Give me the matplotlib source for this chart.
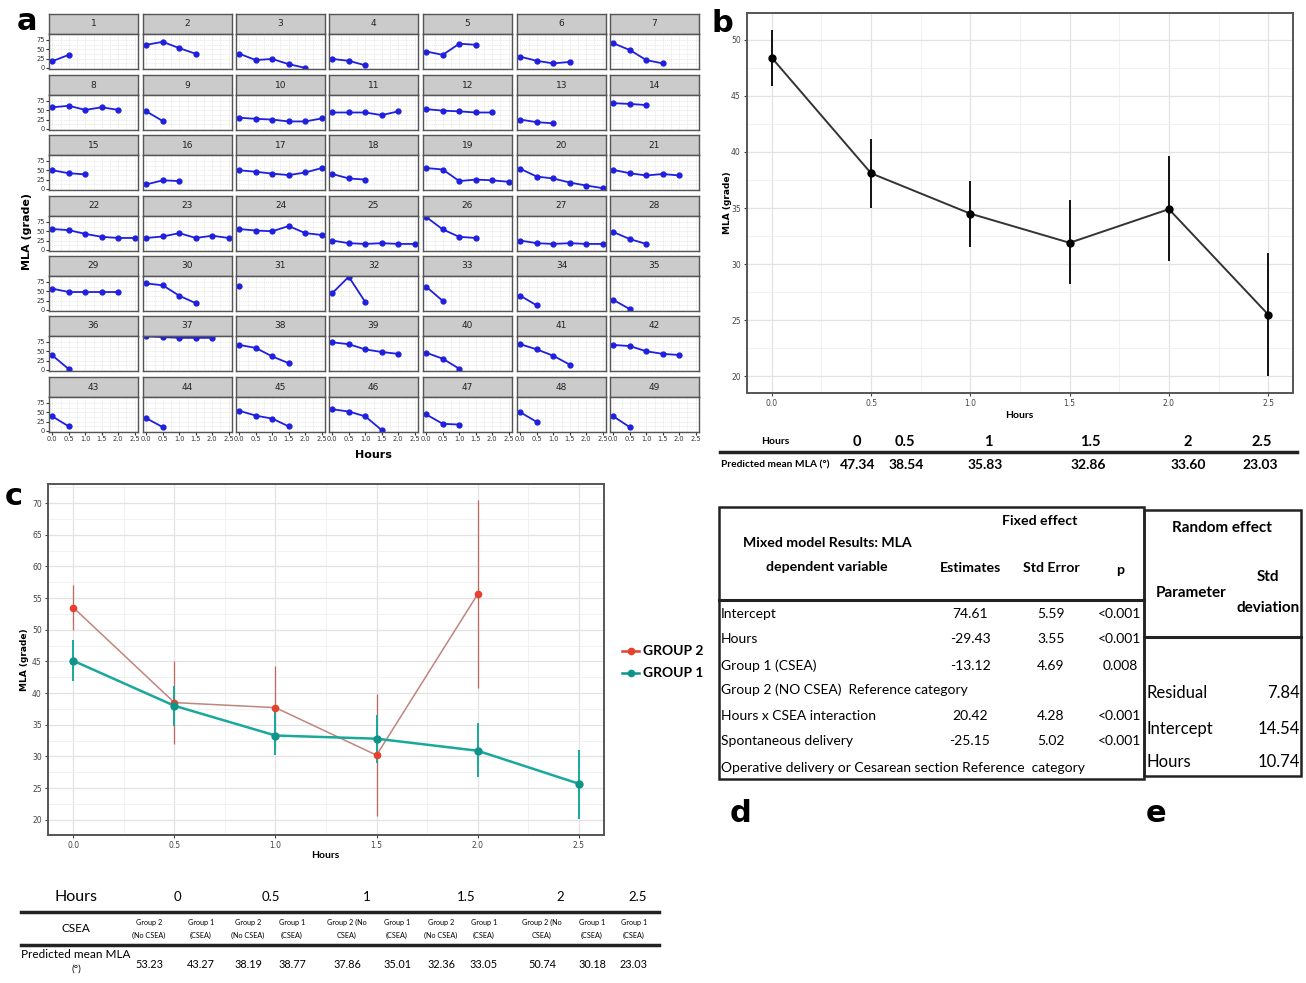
import numpy as np
import matplotlib
matplotlib.use('Agg')
import matplotlib.pyplot as plt
from matplotlib import font_manager
from matplotlib.lines import Line2D
from matplotlib.patches import Rectangle

W, H = 1306, 983

# Lato is the closest installed match to the Calibri-like table text
names = {f.name for f in font_manager.fontManager.ttflist}
NARROW = 'Lato' if 'Lato' in names else 'DejaVu Sans'

# ---- data ----
hours = [0.0, 0.5, 1.0, 1.5, 2.0, 2.5]

# panel a: MLA per patient, one list per row of facets (patients 1-49)
row1_mla = [[18, 35], [62, 70, 53, 38], [38, 21, 24, 10, 0], [24, 19, 7],
            [44, 35, 65, 62], [30, 19, 12, 16], [66, 48, 21, 12]]
row2_mla = [[58, 62, 51, 58, 51], [47, 21], [30, 27, 25, 20, 20, 28], [44, 44, 44, 37, 47],
            [53, 49, 47, 44, 44], [25, 18, 15], [69, 67, 64]]
row3_mla = [[50, 42, 39], [12, 23, 21], [50, 46, 41, 37, 44, 56], [40, 28, 25],
            [56, 52, 21, 25, 23, 19], [54, 33, 28, 17, 9, 2], [51, 42, 36, 40, 36]]
row4_mla = [[56, 53, 43, 35, 32, 32], [32, 36, 45, 32, 38, 32], [56, 52, 50, 64, 45, 40],
            [25, 18, 16, 18, 16, 16], [88, 55, 35, 32], [25, 18, 16, 18, 16, 16], [48, 29, 16]]
row5_mla = [[57, 48, 48, 48, 48], [71, 66, 38, 18], [64], [45, 89, 21],
            [62, 24], [38, 12], [27, 2]]
row6_mla = [[39, 2], [90, 88, 86, 86, 86], [67, 59, 36, 18], [74, 69, 55, 48, 43],
            [46, 30, 3], [69, 55, 38, 14], [67, 64, 50, 43, 40]]
row7_mla = [[39, 12], [34, 10], [54, 41, 33, 12], [58, 52, 39, 2],
            [44, 19, 17], [50, 24], [39, 10]]
facet_rows = [row1_mla, row2_mla, row3_mla, row4_mla, row5_mla, row6_mla, row7_mla]

# panel b: overall mean MLA with interval
b_mean = [48.4, 38.1, 34.5, 31.9, 34.9, 25.5]
b_low = [45.9, 35.0, 31.5, 28.2, 30.3, 20.0]
b_high = [50.9, 41.2, 37.4, 35.7, 39.6, 31.0]
b_table_hours = ['0', '0.5', '1', '1.5', '2', '2.5']
b_table_pred = ['47.34', '38.54', '35.83', '32.86', '33.60', '23.03']

# panel c: by group
g2_hours = [0.0, 0.5, 1.0, 1.5, 2.0]
g2_mean = [53.5, 38.5, 37.7, 30.2, 55.6]
g2_low = [50.0, 31.9, 31.2, 20.6, 40.8]
g2_high = [57.1, 45.0, 44.2, 39.9, 70.5]
g1_hours = [0.0, 0.5, 1.0, 1.5, 2.0, 2.5]
g1_mean = [45.1, 38.0, 33.3, 32.8, 30.9, 25.7]
g1_low = [41.9, 34.8, 30.2, 29.0, 26.7, 20.2]
g1_high = [48.4, 41.1, 37.4, 36.5, 35.2, 31.0]

c_table_hours = ['0', '0.5', '1', '1.5', '2', '2.5']
c_table_groups = ['Group 2\n(No CSEA)', 'Group 1\n(CSEA)', 'Group 2\n(No CSEA)', 'Group 1\n(CSEA)',
                  'Group 2 (No\nCSEA)', 'Group 1\n(CSEA)', 'Group 2\n(No CSEA)', 'Group 1\n(CSEA)',
                  'Group 2 (No\nCSEA)', 'Group 1\n(CSEA)', 'Group 1\n(CSEA)']
c_table_pred = ['53.23', '43.27', '38.19', '38.77', '37.86', '35.01', '32.36', '33.05',
                '50.74', '30.18', '23.03']

# panel d: fixed effects
d_terms = ['Intercept', 'Hours', 'Group 1 (CSEA)', 'Group 2 (NO CSEA)  Reference category',
           'Hours x CSEA interaction', 'Spontaneous delivery',
           'Operative delivery or Cesarean section Reference  category']
d_est = ['74.61', '-29.43', '-13.12', '', '20.42', '-25.15', '']
d_se = ['5.59', '3.55', '4.69', '', '4.28', '5.02', '']
d_p = ['<0.001', '<0.001', '0.008', '', '<0.001', '<0.001', '']

# panel e: random effects
e_params = ['Residual', 'Intercept', 'Hours']
e_sd = ['7.84', '14.54', '10.74']


def rect(x0, y0, x1, y1):
    return [x0 / W, 1 - y1 / H, (x1 - x0) / W, (y1 - y0) / H]


fig = plt.figure(figsize=(W / 100, H / 100), dpi=100)


def ftext(x, y, s, **kw):
    kw.setdefault('ha', 'center')
    kw.setdefault('va', 'center')
    fig.text(x / W, 1 - y / H, s, **kw)


def fline(x0, x1, y0, y1, lw=1.5, color='#222222'):
    fig.add_artist(Line2D([x0 / W, x1 / W], [1 - y0 / H, 1 - y1 / H], lw=lw,
                          color=color, transform=fig.transFigure))


def fbox(x0, y0, x1, y1, lw=1.5):
    fig.add_artist(Rectangle((x0 / W, 1 - y1 / H), (x1 - x0) / W, (y1 - y0) / H, fill=False,
                             lw=lw, edgecolor='#222222', transform=fig.transFigure))


# ---- panel a ----
col_left = [49, 143, 236, 329, 423, 517, 610]
row_top = [14, 75, 135, 196, 256, 316, 377]
pid = 1
for r, row in enumerate(facet_rows):
    for c, vals in enumerate(row):
        x0, top = col_left[c], row_top[r]
        sax = fig.add_axes(rect(x0, top, x0 + 89, top + 20))
        sax.set_facecolor('#cbcbcb')
        sax.set_xticks([])
        sax.set_yticks([])
        for s in sax.spines.values():
            s.set_color('#555555')
            s.set_linewidth(1.0)
        sax.text(0.5, 0.5, str(pid), ha='center', va='center', fontsize=6.5,
                 color='#222222', transform=sax.transAxes)
        pax = fig.add_axes(rect(x0, top + 20, x0 + 89, top + 55))
        pax.plot(hours[:len(vals)], vals, color='#1f1fe0', marker='o', ms=3.5, lw=1.3)
        pax.set_xlim(-0.1, 2.6)
        pax.set_ylim(-3, 91)
        pax.set_xticks(hours)
        pax.set_yticks([0, 25, 50, 75])
        pax.set_xticks([0.25, 0.75, 1.25, 1.75, 2.25], minor=True)
        pax.set_yticks([12.5, 37.5, 62.5, 87.5], minor=True)
        pax.grid(True, which='both', color='#e6e6e6', lw=0.5, ls=(0, (2, 1)))
        pax.set_axisbelow(True)
        for s in pax.spines.values():
            s.set_color('#555555')
            s.set_linewidth(1.0)
        pax.tick_params(which='both', length=0)
        pax.tick_params(which='major', length=2, labelsize=4.8, pad=1, colors='#333333')
        if c != 0:
            pax.set_yticklabels([])
            pax.tick_params(axis='y', length=0)
        if r != 6:
            pax.set_xticklabels([])
            pax.tick_params(axis='x', length=0)
        pid += 1

ftext(27, 232, 'MLA (grade)', rotation=90, fontsize=8, fontweight='bold')
ftext(373, 455, 'Hours', fontsize=8, fontweight='bold')


def style_axes(ax):
    ax.set_xlim(-0.125, 2.625)
    ax.set_xticks(hours)
    ax.set_xticklabels(['0.0', '0.5', '1.0', '1.5', '2.0', '2.5'])
    ax.set_xticks([0.25, 0.75, 1.25, 1.75, 2.25], minor=True)
    ax.grid(True, which='major', color='#e3e3e3', lw=0.9)
    ax.grid(True, which='minor', color='#efefef', lw=0.6)
    ax.set_axisbelow(True)
    for s in ax.spines.values():
        s.set_color('#555555')
        s.set_linewidth(1.4)
    ax.tick_params(which='major', length=2.5, labelsize=5.5, colors='#444444', pad=2)
    ax.tick_params(which='minor', length=0)


# ---- panel b ----
ax_b = fig.add_axes(rect(747, 13, 1293, 393))
style_axes(ax_b)
ax_b.set_ylim(18.5, 52.4)
ax_b.set_yticks([20, 25, 30, 35, 40, 45, 50])
ax_b.set_yticks([22.5, 27.5, 32.5, 37.5, 42.5, 47.5], minor=True)
ax_b.vlines(hours, b_low, b_high, color='#111111', lw=1.4)
ax_b.plot(hours, b_mean, color='#333333', lw=1.4, marker='o', ms=5, mfc='black', mec='black')
ftext(728, 203, 'MLA (grade)', rotation=90, fontsize=6.5, fontweight='bold')
ftext(1019, 416, 'Hours', fontsize=7.5, fontweight='bold', family=NARROW)

b_head_x = [857, 905, 988, 1090, 1188, 1262]
b_val_x = [858, 906, 985, 1088, 1188, 1260]
ftext(775, 442, 'Hours', fontsize=7.5, family=NARROW, fontweight='bold')
ftext(775, 465, 'Predicted mean MLA (°)', fontsize=7.3, family=NARROW, fontweight='bold')
for xh, xv, h, v in zip(b_head_x, b_val_x, b_table_hours, b_table_pred):
    ftext(xh, 442, h, fontsize=10.5, family=NARROW, fontweight='bold')
    ftext(xv, 465, v, fontsize=10, family=NARROW, fontweight='bold')
fline(720, 1297, 452, 452, lw=2.5)

# ---- panel c ----
ax_c = fig.add_axes(rect(48, 484, 604, 835))
style_axes(ax_c)
ax_c.set_ylim(17.6, 73.0)
ax_c.set_yticks([20, 25, 30, 35, 40, 45, 50, 55, 60, 65, 70])
ax_c.set_yticks([22.5, 27.5, 32.5, 37.5, 42.5, 47.5, 52.5, 57.5, 62.5, 67.5, 72.5], minor=True)
red_line, red_pt = '#c0857d', '#e8402f'
teal_line, teal_pt = '#19a89c', '#0f9488'
ax_c.vlines(g2_hours, g2_low, g2_high, color='#c06a5e', lw=0.9)
ax_c.plot(g2_hours, g2_mean, color=red_line, lw=1.1)
ax_c.vlines(g1_hours, g1_low, g1_high, color=teal_line, lw=1.4)
ax_c.plot(g1_hours, g1_mean, color=teal_line, lw=1.8)
ax_c.plot(g2_hours, g2_mean, ls='none', marker='o', ms=4.5, color=red_pt)
ax_c.plot(g1_hours, g1_mean, ls='none', marker='o', ms=5, color=teal_pt)
ftext(25, 660, 'MLA (grade)', rotation=90, fontsize=6.5, fontweight='bold')
ftext(325, 856, 'Hours', fontsize=7.5, fontweight='bold', family=NARROW)

# legend
for y, col, pcol, lab in [(651, red_line, red_pt, 'GROUP 2'), (673, teal_line, teal_pt, 'GROUP 1')]:
    fig.add_artist(Line2D([622 / W, 639 / W], [1 - y / H, 1 - y / H], color=pcol, lw=1.8,
                          transform=fig.transFigure))
    fig.add_artist(Line2D([630.5 / W], [1 - y / H], color=pcol, marker='o', ms=4.5,
                          transform=fig.transFigure))
    ftext(643, y, lab, ha='left', fontsize=10, fontweight='bold', family=NARROW)

# table under c
c_hour_x = [177, 271, 367, 466, 560, 638]
c_col_x = [149, 201, 248, 292, 347, 397, 441, 484, 542, 592, 634]
ftext(76, 897, 'Hours', fontsize=11.5, family=NARROW)
for x, h in zip(c_hour_x, c_table_hours):
    ftext(x, 897, h, fontsize=9.5, family=NARROW)
fline(21, 659, 912, 912, lw=2.5)
ftext(76, 928, 'CSEA', fontsize=8.5, family=NARROW)
for x, g, v in zip(c_col_x, c_table_groups, c_table_pred):
    ftext(x, 929, g, fontsize=5.2, family=NARROW, linespacing=2.0)
    ftext(x, 965, v, fontsize=7.8, family=NARROW)
fline(21, 659, 945, 945, lw=2.5)
ftext(76, 955, 'Predicted mean MLA', fontsize=8.5, family=NARROW)
ftext(76, 969, '(°)', fontsize=7.5, family=NARROW)

# ---- table d ----
fbox(719, 507, 1144, 779, lw=1.8)
fline(719, 1144, 600, 600, lw=2.2)
hd = dict(fontsize=10.2, fontweight='bold', family=NARROW)
ftext(1040, 521, 'Fixed effect', **hd)
ftext(827, 543, 'Mixed model Results: MLA', **hd)
ftext(827, 567, 'dependent variable', **hd)
ftext(970, 568, 'Estimates', **hd)
ftext(1051, 568, 'Std Error', **hd)
ftext(1120, 570, 'p', **hd)
d_rows_y = [614, 639, 666, 690, 716, 741, 768]
for y, t, e, s, p in zip(d_rows_y, d_terms, d_est, d_se, d_p):
    ftext(721, y, t, ha='left', fontsize=10, family=NARROW)
    ftext(970, y, e, fontsize=10, family=NARROW)
    ftext(1051, y, s, fontsize=10, family=NARROW)
    ftext(1120, y, p, fontsize=10, family=NARROW)

# ---- table e ----
fbox(1144, 510, 1301, 776, lw=1.8)
fline(1144, 1301, 637, 637, lw=2.2)
he = dict(fontsize=11, fontweight='bold', family=NARROW)
ftext(1222, 528, 'Random effect', **he)
ftext(1191, 593, 'Parameter', **he)
ftext(1268, 577, 'Std', **he)
ftext(1268, 608, 'deviation', **he)
for y, p, v in zip([693, 729, 762], e_params, e_sd):
    ftext(1146, y, p, ha='left', fontsize=12, family=NARROW)
    ftext(1300, y, v, ha='right', fontsize=12, family=NARROW)

# ---- panel letters ----
lt = dict(fontsize=22, fontweight='bold', va='baseline')
ftext(27, 30, 'a', **lt)
ftext(722, 32, 'b', **lt)
ftext(14, 505, 'c', **lt)
ftext(740, 822, 'd', **lt)
ftext(1156, 822, 'e', **lt)

fig.savefig('out.png', dpi=100, facecolor='white')
